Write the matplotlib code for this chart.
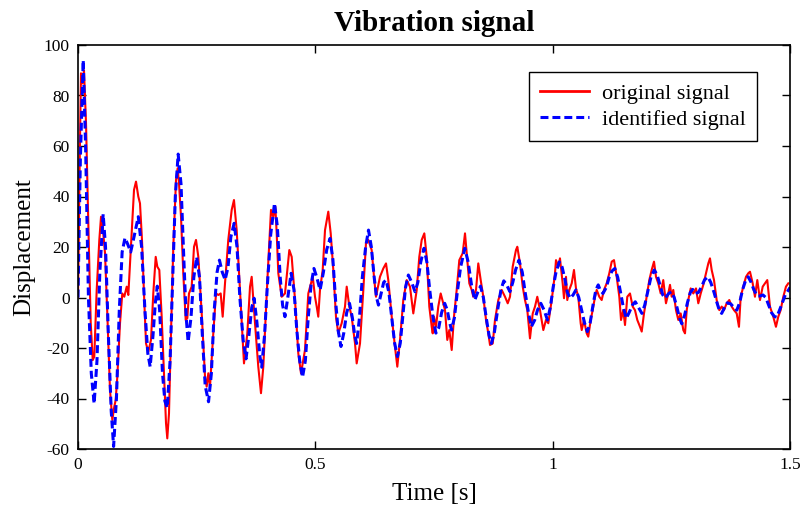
import matplotlib
matplotlib.use("Agg")
import matplotlib.pyplot as plt

title = "Vibration signal"
xlabel = "Time [s]"
ylabel = "Displacement"
legend_labels = ["original signal", "identified signal"]
xticks = [0, 0.5, 1, 1.5]
xtick_labels = ["0", "0.5", "1", "1.5"]
yticks = [-60, -40, -20, 0, 20, 40, 60, 80, 100]

# identified signal (blue dashed)
t_ident = [0.000, 0.005, 0.011, 0.016, 0.022, 0.028, 0.034, 0.040, 0.046, 0.053,
           0.058, 0.064, 0.070, 0.075, 0.081, 0.087, 0.093, 0.099, 0.105, 0.111,
           0.118, 0.127, 0.134, 0.141, 0.147, 0.152, 0.158, 0.163, 0.167, 0.172,
           0.178, 0.183, 0.188, 0.194, 0.199, 0.205, 0.211, 0.217, 0.223, 0.228,
           0.232, 0.238, 0.244, 0.250, 0.256, 0.262, 0.268, 0.275, 0.281, 0.287,
           0.293, 0.298, 0.304, 0.310, 0.316, 0.322, 0.329, 0.335, 0.341, 0.348,
           0.354, 0.360, 0.366, 0.371, 0.377, 0.383, 0.387, 0.393, 0.399, 0.406,
           0.414, 0.420, 0.426, 0.431, 0.436, 0.442, 0.449, 0.455, 0.461, 0.467,
           0.473, 0.479, 0.485, 0.491, 0.497, 0.503, 0.510, 0.517, 0.524, 0.531,
           0.537, 0.543, 0.548, 0.554, 0.560, 0.566, 0.572, 0.578, 0.583, 0.587,
           0.593, 0.599, 0.606, 0.612, 0.618, 0.624, 0.629, 0.633, 0.639, 0.644,
           0.649, 0.655, 0.661, 0.667, 0.673, 0.679, 0.685, 0.690, 0.696, 0.703,
           0.710, 0.716, 0.722, 0.729, 0.735, 0.741, 0.748, 0.754, 0.760, 0.766,
           0.7725, 0.778, 0.783, 0.787, 0.793, 0.799, 0.806, 0.815, 0.822, 0.829,
           0.836, 0.842, 0.848, 0.854, 0.860, 0.866, 0.871, 0.877, 0.884, 0.891,
           0.897, 0.903, 0.910, 0.916, 0.922, 0.929, 0.936, 0.942, 0.949, 0.955,
           0.962, 0.968, 0.975, 0.982, 0.989, 0.995, 1.001, 1.007, 1.014, 1.020,
           1.026, 1.031, 1.037, 1.043, 1.049, 1.055, 1.061, 1.067, 1.073, 1.079,
           1.085, 1.091, 1.096, 1.100, 1.106, 1.113, 1.119, 1.125, 1.131, 1.137,
           1.143, 1.149, 1.155, 1.161, 1.168, 1.174, 1.181, 1.188, 1.194, 1.201,
           1.207, 1.214, 1.220, 1.226, 1.232, 1.237, 1.244, 1.250, 1.256, 1.262,
           1.267, 1.272, 1.278, 1.284, 1.290, 1.295, 1.301, 1.307, 1.313, 1.320,
           1.327, 1.333, 1.340, 1.346, 1.351, 1.356, 1.362, 1.368, 1.375, 1.382,
           1.388, 1.394, 1.400, 1.406, 1.412, 1.418, 1.424, 1.431, 1.437, 1.443,
           1.449, 1.455, 1.461, 1.467, 1.472, 1.478, 1.484, 1.490, 1.497, 1.500]
x_ident = [0, 55, 94, 60, 0, -30, -42, -25, 10, 33,
           20, -15, -45, -59, -40, -5, 18, 23.6, 21, 18,
           24, 32, 20, -5, -22, -27.4, -15, -2, 4.5, -5,
           -30, -41, -43.7, -25, 5, 40, 56.8, 45, 15, -8,
           -17.5, -8, 8, 16, 8, -15, -35, -41.3, -30, -5,
           10, 14.8, 10, 7, 12, 24, 29.4, 20, 0, -17,
           -24.3, -15, -4, -0.3, -10, -23, -27.6, -15, 5, 25,
           37.3, 28, 8, -3, -7.6, 0, 9.6, 3, -13, -25,
           -31.6, -25, -8, 5, 11.5, 8, 3, 10, 19, 23.4,
           15, -2, -13, -19.4, -14, -6, -2.3, -8, -15, -18.2,
           -8, 8, 20, 26.7, 20, 8, 0, -3, 2, 6,
           6.9, 2, -8, -18, -23.4, -18, -6, 4, 8.9, 6,
           2.3, 6, 14, 19.5, 14, 3, -8, -14.1, -12, -6,
           -2.3, -5, -10, -12.9, -8, 2, 12, 19.5, 14, 5,
           -1, 2, 4.5, 0, -8, -15, -18.2, -14, -5, 3,
           6.6, 5, 2.3, 6, 11, 14.8, 10, 2, -6, -11.6,
           -9, -5, -2.3, -5, -8.9, -4, 4, 10, 14.1, 12,
           7, 2, -0.3, 1, 3, 0, -5, -10, -13.5, -10,
           -3, 3, 5, 3, 1.6, 4, 8, 10.5, 11.5, 8,
           2, -4, -8.3, -6, -3, -1.7, -4, -6.3, -3, 3,
           8, 10.9, 9, 5, 1, -0.3, 1.5, 2.3, 0, -4,
           -8, -10.4, -7, -2, 2, 3.2, 1.6, 2, 4, 7,
           8.2, 6, 2, -2, -5, -6.3, -4, -2.1, -2.5, -4,
           -5, -2, 3, 6.5, 8.2, 6, 3, 0.6, 0.6, 1,
           0, -3, -6, -7.5, -7.8, -5, -2, 1, 3, 4]

# original signal (red solid)
t_orig = [0.0, 0.0042, 0.0063, 0.0091, 0.0126, 0.0169, 0.0217, 0.0268, 0.031, 0.0343,
          0.0394, 0.0449, 0.0485, 0.052, 0.0569, 0.0617, 0.0674, 0.0723, 0.0765, 0.0794,
          0.0828, 0.0885, 0.0933, 0.0975, 0.1026, 0.106, 0.1131, 0.118, 0.1222, 0.127,
          0.1306, 0.1348, 0.139, 0.1433, 0.1481, 0.1538, 0.1586, 0.1637, 0.1671, 0.1713,
          0.1763, 0.1812, 0.1854, 0.1881, 0.1917, 0.1959, 0.2008, 0.2065, 0.21, 0.2128,
          0.217, 0.2218, 0.2269, 0.2303, 0.2338, 0.2395, 0.2444, 0.2486, 0.2535, 0.2606,
          0.2676, 0.2711, 0.2745, 0.2781, 0.285, 0.2907, 0.2956, 0.3006, 0.3048, 0.3097,
          0.3166, 0.3238, 0.3286, 0.3343, 0.3413, 0.347, 0.3497, 0.3567, 0.3624, 0.3659,
          0.3729, 0.3798, 0.3855, 0.3904, 0.3997, 0.4066, 0.4114, 0.4157, 0.4186, 0.422,
          0.4291, 0.4361, 0.4452, 0.4502, 0.4572, 0.4641, 0.4698, 0.4782, 0.4852, 0.4945,
          0.4993, 0.5029, 0.5062, 0.5098, 0.5155, 0.5204, 0.5273, 0.5324, 0.5379, 0.5435,
          0.5484, 0.5555, 0.5625, 0.5661, 0.5716, 0.5766, 0.5836, 0.5871, 0.5941, 0.6011,
          0.6067, 0.6116, 0.6187, 0.6236, 0.6278, 0.6362, 0.6432, 0.6489, 0.6537, 0.6609,
          0.6678, 0.6727, 0.6784, 0.6853, 0.6925, 0.6994, 0.7064, 0.7136, 0.719, 0.7241,
          0.7296, 0.7346, 0.7401, 0.7452, 0.7473, 0.75, 0.7542, 0.759, 0.7641, 0.7696,
          0.7732, 0.778, 0.7822, 0.7873, 0.7921, 0.7978, 0.8033, 0.8104, 0.8153, 0.8202,
          0.8244, 0.8294, 0.8328, 0.8385, 0.8433, 0.8484, 0.8539, 0.8596, 0.8644, 0.868,
          0.8737, 0.8785, 0.8855, 0.8926, 0.8996, 0.9053, 0.9101, 0.9158, 0.9227, 0.9255,
          0.9312, 0.9369, 0.9417, 0.9466, 0.9522, 0.958, 0.9628, 0.9676, 0.9733, 0.9803,
          0.9859, 0.9908, 0.998, 1.0049, 1.007, 1.0119, 1.0154, 1.0211, 1.0239, 1.0281,
          1.0308, 1.035, 1.0401, 1.0449, 1.0491, 1.054, 1.059, 1.0612, 1.066, 1.0717,
          1.075, 1.0801, 1.0843, 1.0892, 1.0928, 1.0982, 1.1033, 1.1081, 1.1138, 1.1193,
          1.1244, 1.1292, 1.1349, 1.1404, 1.144, 1.1488, 1.1524, 1.1572, 1.1629, 1.1686,
          1.1734, 1.1783, 1.184, 1.1876, 1.1924, 1.1981, 1.2036, 1.2086, 1.2135, 1.2177,
          1.2225, 1.2276, 1.233, 1.2387, 1.2436, 1.2472, 1.2507, 1.2541, 1.2598, 1.2647,
          1.2697, 1.2752, 1.2788, 1.2824, 1.2857, 1.2908, 1.2963, 1.302, 1.3068, 1.3119,
          1.3173, 1.323, 1.3279, 1.3314, 1.335, 1.3399, 1.3455, 1.3511, 1.3561, 1.3609,
          1.3666, 1.3721, 1.3772, 1.382, 1.3877, 1.3925, 1.3961, 1.4016, 1.4073, 1.4121,
          1.4157, 1.4214, 1.4262, 1.4311, 1.4368, 1.4425, 1.4473, 1.4521, 1.4578, 1.4648,
          1.4704, 1.4753, 1.4803, 1.4859, 1.4915, 1.4964]
x_orig = [0, 62.4, 88.8, 84.8, 90, 69, 29.5, -10, -24.8, -23.4,
          3, 22.8, 32, 28, 17.6, -6.1, -36.6, -48.5, -43.2, -40.6,
          -31.4, -10.2, 1.6, 0.3, 4.3, 1.0, 25.4, 42.6, 45.9, 40,
          37.3, 22.8, 1.6, -18.2, -21.5, -16.8, 1.6, 16.1, 12.2, 10.9,
          -7.6, -30, -49.8, -55.8, -45.9, -14.2, 20.1, 46.5, 51.2, 45.2,
          32, 9.6, -8.9, -8.2, 1.6, 4.3, 20.1, 22.8, 16.1, -6.3,
          -31.4, -35.3, -30, -35.3, -14.2, 1.6, 1.0, 1.6, -7.6, 5.6,
          22.8, 34.7, 38.6, 26.7, 3, -16.8, -26.1, -14.2, 4.3, 8.2,
          -10.2, -27.4, -37.9, -27.4, 9.6, 34.7, 32, 36, 25.4, 9.6,
          0.3, 1.6, 18.8, 16.1, -1, -22.1, -30, -20.8, 1.6, 8.2,
          0.3, -3.6, -7.6, 3, 10.9, 26.7, 34, 25.4, 10.9, -7.6,
          -14.2, -10.2, -3.6, 4.3, -3.6, -7.6, -18.2, -26.1, -18.2, 3,
          21.5, 22.8, 18.8, 8.2, 0.3, 8.2, 11.5, 13.5, 6.9, -7.6,
          -19.5, -27.4, -16.8, -1, 6.9, 4.3, -6.3, 3, 16.1, 22.8,
          25.4, 16.1, -3.6, -11.6, -14.2, -7.6, -11.6, -3.6, 1.6, -2.3,
          -5, -16.8, -12.9, -20.8, -7.6, 3, 14.8, 17.5, 25.4, 14.8,
          5.6, 3, 0.3, 3, 13.5, 6.9, 0.3, -8.9, -14.2, -18.8,
          -18.2, -8.9, -1, 3, 0.3, -2.3, 0.3, 12.2, 18.8, 20.1,
          13.5, 4.3, -1, -5, -16.2, -6.3, -3.6, 0.3, -5, -12.9,
          -8.9, -10.2, -1, 9.6, 14.8, 12.2, 15.5, 5.6, -0.3, 8.2,
          -1, 3, 5.6, 10.9, 3.6, 0.3, -10.2, -12.9, -8.9, -14.2,
          -15.5, -8.9, -5, 0.3, 3, 0.3, -1, 3, 5.6, 9.6,
          14.2, 14.8, 8.2, 0.3, -8.9, -5, -10.9, 0.3, 1.6, -3.6,
          -5, -8.9, -11.6, -13.5, -6.3, 0.3, 6.9, 10.9, 14.2, 8.2,
          5.6, 1.6, 6.9, -2.3, 1.6, 5, 0.3, 3, -5, -8.9,
          -6.3, -12.9, -14.2, -5, -1, 3.6, 1.6, 3.6, -2.3, 1.6,
          5, 9.6, 13.5, 15.5, 10.9, 6.9, -1, -5, -3.6, -5,
          -2.3, -1, -3.6, -5, -6.3, -11.6, 0.3, 4.3, 8.2, 9.6,
          10.2, 5.6, 0.3, 6.9, -1, 4.3, 5.6, 6.9, -3.6, -7.6,
          -11.6, -7.6, -5, 0.3, 4.3, 5.6]

plt.rcParams['font.family'] = ['Liberation Serif', 'DejaVu Serif']
plt.rcParams['axes.unicode_minus'] = False

fig = plt.figure(figsize=(8.03, 5.07), dpi=100)
ax = fig.add_axes([78 / 803, 1 - 449 / 507, 712 / 803, 404 / 507])

ax.plot(t_orig, x_orig, color=(1, 0, 0), lw=1.5, label=legend_labels[0])
ax.plot(t_ident, x_ident, color=(0, 0, 1), lw=2.2, dashes=(2.6, 1.3),
        label=legend_labels[1])

ax.set_xlim(0, 1.5)
ax.set_ylim(-60, 100)
ax.set_xticks(xticks)
ax.set_xticklabels(xtick_labels)
ax.set_yticks(yticks)
ax.tick_params(direction='in', top=True, right=True, length=6, width=1,
               labelsize=12.5, pad=6, colors='black')
for s in ax.spines.values():
    s.set_linewidth(1.2)

ax.set_title(title, fontsize=21, fontweight='bold', pad=10)
ax.set_xlabel(xlabel, fontsize=18, labelpad=7)
ax.set_ylabel(ylabel, fontsize=18, labelpad=6)

leg = ax.legend(loc='upper right', bbox_to_anchor=(0.954, 0.933), borderaxespad=0,
                fontsize=16, frameon=True, fancybox=False, edgecolor='black',
                framealpha=1, handlelength=2.2, borderpad=0.5, labelspacing=0.25,
                handletextpad=0.6)
leg.get_frame().set_linewidth(1.0)
leg.get_lines()[0].set_linewidth(2.0)

fig.savefig("out.png", dpi=100)
